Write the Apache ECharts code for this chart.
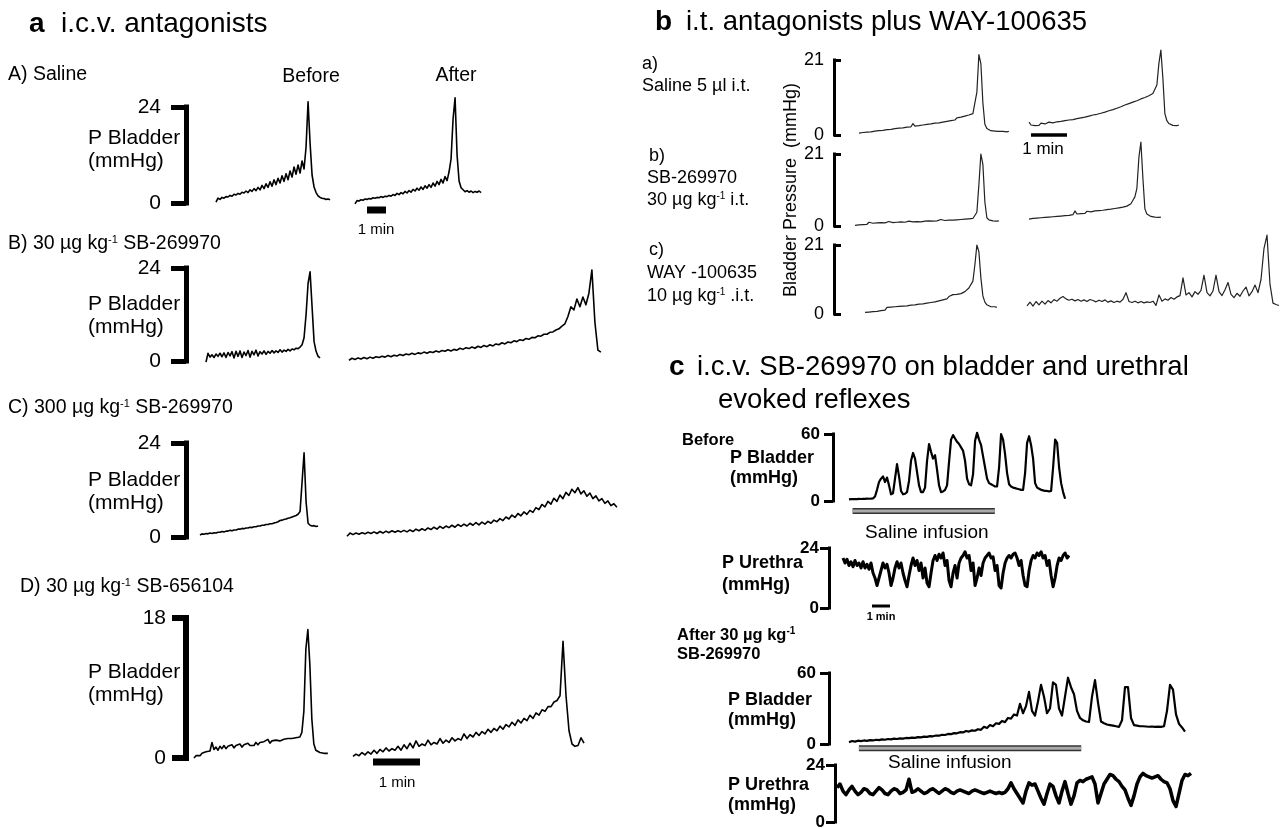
<!DOCTYPE html>
<html>
<head>
<meta charset="utf-8">
<title>Bladder pressure traces</title>
<script src="https://cdn.jsdelivr.net/npm/echarts@6/dist/echarts.min.js"></script>
<style>
    html, body { margin: 0; padding: 0; background: #fff; }
    #chart { width: 1282px; height: 829px; }
</style>
</head>
<body>
<div id="chart"></div>
<script>
    // ---- panel a : i.c.v. antagonists, bladder pressure (mmHg), evenly sampled ----
    const salineBefore = [0.2,1.2,0.9,1.4,1.2,1.6,1.5,1.9,1.7,2.2, 2.0,2.4,2.2,2.7,2.5,3.0,2.6,3.3,2.9,3.6,
        3.1,3.9,3.3,4.4,3.6,4.8,3.9,5.3,4.2,5.8, 4.6,6.2,5.0,6.8,5.4,7.3,5.8,8.0,6.5,9.0,
        7.2,9.5,7.5,10.5,8.5,14,25.3,15,7,4, 2.6,1.8,1.4,1.2,1.1,0.9,1.0,0.8];
    const salineAfter = [-0.2,0.6,0.5,0.8,0.7,1.0,0.9,1.1,1.0,1.3, 1.2,1.4,1.3,1.6,1.4,1.7,1.6,1.9,1.7,2.1,
        1.9,2.4,2.1,2.6,2.3,2.9,2.5,3.1,2.7,3.4, 3.0,3.7,3.2,4.0,3.4,4.3,3.7,4.6,3.9,5.0,
        4.2,5.4,4.6,5.9,5.0,6.6,5.6,7.8,11,21, 26.3,12,5.5,3.8,3.3,2.8,3.1,2.7,3.0,2.6, 2.9,2.7,3.0,2.6];
    const sb30Before = [-0.3,2.0,1.0,1.6,0.9,1.8,1.2,2.0,1.1,2.1, 0.9,2.2,1.3,2.4,0.8,2.5,1.2,2.6,0.9,2.3,
        1.4,2.7,1.0,2.5,1.6,2.8,1.3,2.4,1.8,2.6, 1.7,2.5,2.0,2.7,2.1,2.6,2.2,2.9,2.3,2.8,
        2.5,3.0,2.6,3.1,2.9,3.3,3.2,3.6,4.2,6, 12,20,23,14,5,2.5,1.2,0.8];
    const sb30After = [0.2,0.7,0.4,0.8,0.5,0.9,0.6,1.0,0.7,1.1, 0.9,1.2,1.0,1.4,1.1,1.5,1.3,1.7,1.4,1.8,
        1.6,2.0,1.7,2.1,1.9,2.3,2.0,2.4,2.2,2.6, 2.3,2.7,2.5,2.9,2.6,3.0,2.8,3.3,3.0,3.4,
        3.2,3.6,3.3,3.8,3.5,4.0,3.7,4.2,3.9,4.4, 4.2,4.7,4.4,4.9,4.7,5.2,5.0,5.5,5.3,5.8,
        5.6,6.1,6.0,6.5,6.4,6.9,6.9,7.4,7.5,8.0, 8.3,9.0,9.6,11.5,14.0,13.2,16.0,14.0,16.5,14.5,
        17.5,23.5,10,2.8,2.3];
    const sb300Before = [0.5,0.8,0.7,0.9,0.8,1.0,0.9,1.1,1.0,1.2, 1.2,1.4,1.3,1.5,1.5,1.7,1.6,1.8,1.8,2.0,
        2.0,2.2,2.1,2.3,2.3,2.5,2.4,2.6,2.6,2.8, 2.8,3.0,3.0,3.2,3.2,3.4,3.4,3.6,3.7,3.9,
        4.2,4.3,4.5,4.6,4.8,4.9,5.1,5.3,5.5,5.8, 6.5,14,21.5,9,3.5,3.0,2.8,2.9,2.7,2.8];
    const sb300After = [0.2,1.0,0.6,1.0,0.7,1.1,0.8,1.2,0.9,1.3, 0.9,1.4,1.0,1.5,1.1,1.6,1.2,1.6,1.3,1.7,
        1.3,1.8,1.4,2.0,1.6,2.1,1.7,2.3,1.9,2.5, 2.0,2.7,2.2,2.8,2.4,3.0,2.5,3.2,2.7,3.3,
        2.8,3.5,3.0,3.7,3.1,3.8,3.3,4.0,3.5,4.3, 3.9,4.7,4.2,5.1,4.6,5.6,5.0,6.0,5.4,6.4,
        5.8,6.8,6.3,7.5,7.0,8.3,7.7,9.1,8.4,9.9, 9.1,10.7,9.8,11.4,10.6,12.2,11.3,12.6,11.0,11.8,
        10.4,11.2,9.8,10.5,9.2,9.8,8.6,9.2,8.0,8.5, 7.6];
    const sb656Before = [0.0,0.3,0.4,0.3,0.6,0.5,0.8,0.7,0.9,2.0, 1.1,1.4,1.0,1.5,1.2,1.6,1.2,1.5,1.3,1.7,
        1.3,1.6,1.4,1.8,1.4,1.7,1.5,1.9,1.6,1.8, 1.6,2.0,1.7,2.0,1.8,2.1,1.9,2.4,1.9,2.2,
        2.0,2.3,2.1,2.2,2.1,2.4,2.2,2.5,2.3,2.5, 2.4,2.6,2.5,2.7,3.3,6,14,16.5,12,5,
        1.8,1.0,0.8,0.7,0.6,0.6,0.5,0.6];
    const sb656After = [0.2,0.5,0.3,0.7,0.4,0.8,0.5,1.0,0.6,1.1, 0.8,1.3,0.9,1.2,1.0,1.5,1.0,1.7,1.2,1.9,
        1.3,2.2,1.5,1.8,1.6,2.3,1.7,2.0,1.8,2.5, 1.9,2.3,2.0,2.6,2.2,2.5,2.3,3.1,2.5,3.0,
        2.7,3.3,2.9,3.4,3.1,3.7,3.3,3.8,3.5,4.1, 3.7,4.3,4.0,4.6,4.2,4.9,4.5,5.1,4.8,5.5,
        5.1,5.8,5.5,6.2,6.0,6.6,6.6,7.2,7.4,8.0, 15,8,3.5,1.8,1.5,1.6,2.6,1.9];
    // sample spacing in seconds, [before, after]
    const stepRowA = [6.32, 6.32];
    const stepRowB = [6.32, 9.47];
    const stepRowC = [6.32, 9.47];
    const stepRowD = [2.55, 3.83];
    const yMaxA = [24, 24, 24, 18];

    // ---- panel b : i.t. antagonists plus WAY-100635 ----
    const itSalineBefore = [0.5,0.9,0.7,1.1,0.8,1.2,0.9,1.3,1.1,1.5, 1.2,1.5,1.3,1.7,1.5,1.9,1.6,2.0,1.8,2.1,
        1.9,2.3,2.0,2.4,2.2,2.6,2.3,3.2,2.5,2.8, 2.6,3.0,2.8,3.2,3.0,3.4,3.1,3.5,3.3,3.7,
        3.4,3.9,3.6,4.0,3.8,4.3,4.0,4.5,4.2,4.8, 4.5,5.0,4.8,5.3,5.1,5.6,5.5,6.0,6.5,12,
        22.5,20,9,3.0,1.8,1.4,1.2,1.0,1.1,0.9, 1.0,1.2,1.0,1.1,0.9,1.0];
    const itSalineAfter = [3.6,2.8,3.2,2.6,3.0,2.7,3.3,2.8,3.1,3.0, 3.6,3.1,3.4,3.2,3.7,3.3,3.8,3.5,4.0,3.7,
        4.2,3.9,4.3,4.1,4.6,4.3,4.8,4.5,5.0,4.8, 5.3,5.0,5.6,5.2,5.8,5.5,6.1,5.8,6.4,6.1,
        6.8,6.4,7.1,6.8,7.5,7.2,7.9,7.6,8.4,8.0, 8.8,8.4,9.2,8.8,9.6,9.3,10.1,9.7,10.5,10.3,
        11.0,10.8,11.6,12.0,14,20,23.8,16,6,4.0, 3.2,2.9,2.7,2.9,2.6,2.8];
    const itSbBefore = [0.2,0.5,0.3,0.6,0.4,0.7,0.5,1.1,0.6,0.8, 0.6,0.9,0.7,1.0,0.7,0.9,0.8,1.3,0.8,1.0,
        0.9,1.1,0.9,1.2,1.0,1.1,1.0,1.4,1.0,1.2, 1.1,1.3,1.1,1.2,1.2,1.4,1.2,1.5,1.3,1.4,
        1.3,1.5,1.4,1.9,1.4,1.6,1.5,1.7,1.5,1.7, 1.6,1.8,1.7,1.9,1.8,2.0,1.9,2.1,2.0,2.2,
        2.4,4,12,21,18,7,2.4,1.8,1.6,1.5, 1.6,1.4,1.5];
    const itSbAfter = [2.0,2.4,2.2,2.5,2.3,2.6,2.4,2.6,2.5,2.8, 2.6,2.8,2.7,3.0,2.8,3.0,2.9,3.2,3.0,3.4,
        3.1,3.6,3.3,4.4,3.5,3.8,3.6,4.0,3.7,4.3, 3.8,4.1,3.9,4.4,4.0,4.5,4.2,4.6,4.3,4.8,
        4.4,4.9,4.6,5.1,4.8,5.3,5.0,5.5,5.3,5.8, 5.7,6.5,7.5,8.5,11,20,24.5,14,5,3.5,
        3.0,2.8,2.7,2.6,2.7,2.5,2.6];
    const itWayBefore = [0.5,0.7,0.6,0.8,0.7,0.9,0.8,1.0,1.0,1.1, 1.2,2.0,2.2,2.1,2.3,2.2,2.4,2.3,2.5,2.4,
        2.6,2.5,2.8,2.7,2.9,2.8,3.1,3.0,3.3,3.1, 3.5,3.3,3.6,3.5,3.9,3.7,4.2,4.0,4.6,4.3,
        4.9,4.6,5.3,5.0,5.9,5.6,6.0,5.7,6.2,6.0, 6.8,7.3,7.9,8.3,10,15,21,19,11,5.5,
        3.6,2.8,2.4,2.2,2.1,2.2,2.0];
    const itWayAfter = [2.5,3.6,2.4,3.8,2.8,3.9,3.0,4.1,3.4,4.4, 3.9,4.8,5.3,4.6,4.2,4.5,4.0,4.4,3.9,4.3,
        3.8,4.4,4.1,3.7,4.2,3.8,4.3,3.6,4.0,3.5, 3.9,3.6,4.5,6.5,3.8,3.5,3.9,3.4,3.8,3.4,
        3.7,3.5,3.9,2.6,5.8,3.9,4.6,4.2,5.0,4.5, 5.2,5.6,11.0,5.8,6.5,5.2,6.8,6.0,7.2,11.8,
        6.5,5.5,7.0,11.8,6.8,5.6,7.4,9.6,6.0,5.0, 6.3,5.4,7.0,8.2,5.5,6.8,8.8,6.5,10.5,20,
        24,9,3.3,2.9,2.6];
    const stepPanelB = [3.33, 3.33, 3.33, 3.33, 3.33, 5.0];
    const yMaxB = 21;

    // ---- panel c : bladder and urethral reflexes ----
    const cBladderBefore = [1.5,1.7,1.6,1.8,1.7,1.9,1.8,2.0,1.9,2.1, 2.0,2.2,2.4,4,10,17,20,22,17,21,
        14,6,7,20,33,22,9,6,6.5,8, 18,36,43,38,26,14,8,8,12,36,
        51,44,38,41,28,14,8,8.5,10,14, 35,55,59,56,53,51,48,45,36,20,
        15,14,24,54,61,55,50,40,30,20, 16,15,14,13,13,30,60,55,42,25,
        15,13,12,11.5,11,10.5,10,10,25,52, 58,50,38,16,12,11,10,9.5,9,9,
        8.6,9,30,55,52,30,16,8,2];
    const cUrethraBefore = [20,18,19.5,17,18.5,16.5,19,17,18,16, 18.5,16,17.5,15.5,18,14,12,9,12,15,
        18,16,17.5,14,9,12,16,18.5,16,18, 14,11,8.5,13,17,20,17,19,15,18,
        12,16,10,8.5,14,19,21,19,21.5,20, 22,17,19,11,8.5,14,17,12,18,20,
        21,22.5,20,21,15,18,9,12,16,13, 18,20,21,22,20,20.5,15,17,9,8,
        14,18,20,21,20,21.5,22,20,17,19, 13,9,8.5,15,19,21,20,22,21,22.5,
        20,21,17,19,13,8.5,12,17,20,19, 21,22,20,21];
    const cBladderAfter = [1.5,2.5,2.0,2.8,2.4,3.0,2.7,3.3,3.0,3.6, 3.3,3.9,3.6,4.2,3.9,4.5,4.2,4.8,4.6,5.1,
        4.9,5.4,5.2,5.8,5.6,6.2,6.0,6.6,6.5,7.2, 7.0,7.8,7.6,8.5,8.3,9.2,9.0,10.0,9.8,11.0,
        10.5,11.5,11.2,12.5,12.0,14.5,13.5,16.0,15.0,17.5, 17.0,19.5,18.5,22.0,21.5,25.0,24.0,34,26,32,
        44,28,24,36,50,40,26,30,52,50, 30,24,40,56,48,42,28,22,20,19,
        18.6,40,54,35,19,17.5,16.5,16,15.5,15, 14.5,20,48,48,22,16,15.5,15,15,14.8,
        14.6,14.8,14.5,14.6,14.5,15,28,50,46,25, 17,14,10.5];
    const cUrethraAfter = [14.5,16.0,13.0,11.5,13.5,15.0,13.0,11.5,12.5,14.0, 13.5,12.0,11.5,13.0,14.5,13.5,12.0,11.5,13.0,14.0,
        13.5,12.0,12.5,13.5,18.0,12.5,13.0,14.0,13.0,12.0, 12.5,13.5,14.0,13.0,12.0,13.0,14.0,13.5,12.5,12.0,
        13.0,13.5,13.0,12.5,12.0,13.0,13.5,13.0,12.5,12.0, 12.5,13.0,12.5,12.0,12.5,12.0,12.5,14.0,16.5,14.0,
        12.0,10.0,8.0,13.0,16.5,15.5,16.0,13.0,10.0,7.5, 12.0,16.0,15.0,11.0,8.0,13.0,17.0,12.0,7.5,11.0,
        16.5,17.5,17.0,18.0,18.5,19.0,16.0,8.0,12.0,16.0, 18.0,20.0,19.5,18.0,17.0,15.0,13.5,10.0,7.0,11.0,
        16.0,19.0,20.5,19.5,19.0,18.5,19.0,19.5,18.0,17.0, 16.5,14.0,9.0,6.5,12.0,17.5,20.0,19.5,20.5];
    const stepPanelC = [6.67, 6.67, 10, 10];
    const yMaxC = [60, 24, 60, 24];
    const infusionBefore = [0.2, 8.1];   // minutes
    const infusionAfter = [0.55, 12.9];
    const scaleBarMin = [0, 1];

    const FONT = '"Liberation Sans", Arial, Helvetica, sans-serif';
    const grid = [], xAxis = [], yAxis = [], series = [], graphic = [];

    function addGrid(left, top, width, bottom, xMax, yMax, ax) {
        const i = grid.length;
        grid.push({ left: left, top: top, width: width, height: bottom - top, outerBoundsMode: 'none' });
        xAxis.push({ type: 'value', gridIndex: i, min: 0, max: xMax, show: false });
        const y = { type: 'value', gridIndex: i, min: 0, max: yMax, interval: yMax, show: false, splitLine: { show: false } };
        if (ax) {
            Object.assign(y, {
                show: true,
                offset: left - ax.x,
                axisLine: { show: true, onZero: false, lineStyle: { color: '#000', width: ax.w, cap: 'square' } },
                axisTick: { show: true, inside: !!ax.inside, length: ax.tick, lineStyle: { color: '#000', width: ax.w } },
                axisLabel: { show: true, margin: ax.margin, color: '#000', fontSize: ax.font, fontFamily: FONT,
                    fontWeight: ax.bold ? 'bold' : 'normal' }
            });
        }
        yAxis.push(y);
        return i;
    }

    function addTrace(left, top, bottom, values, stepSec, pxPerMin, yMax, lw, color, ax) {
        const dur = (values.length - 1) * stepSec / 60;
        const g = addGrid(left, top, dur * pxPerMin, bottom, dur, yMax, ax);
        series.push({
            type: 'line', xAxisIndex: g, yAxisIndex: g, symbol: 'none', clip: false, silent: true,
            lineStyle: { color: color, width: lw, join: 'round' },
            data: values.map(function (v, k) { return [k * stepSec / 60, v]; })
        });
        return g;
    }

    function addScaleBar(left, y, pxPerMin, thick) {
        const g = addGrid(left, y - 1, pxPerMin, y + 1, 1, 1);
        series.push({
            type: 'line', xAxisIndex: g, yAxisIndex: g, symbol: 'none', silent: true,
            lineStyle: { color: '#000', width: thick, cap: 'butt' },
            data: scaleBarMin.map(function (t) { return [t, 0.5]; })
        });
    }

    function label(x, y, text, size, extra) {
        graphic.push({
            type: 'text', x: x, y: y, silent: true,
            style: Object.assign({ text: text, fill: '#000', fontSize: size, fontFamily: FONT,
                textAlign: 'left', textVerticalAlign: 'middle', align: 'left', verticalAlign: 'middle' }, extra || {})
        });
    }

    function supLabel(x, y, pre, post, size, bold) {
        const w = bold ? 'bold' : 'normal';
        label(x, y, '{n|' + pre + '}{s|-1}{n|' + post + '}', size, {
            rich: {
                n: { fontSize: size, fontFamily: FONT, fontWeight: w, fill: '#000' },
                s: { fontSize: Math.round(size * 0.58), fontFamily: FONT, fontWeight: w, fill: '#000', verticalAlign: 'top' }
            }
        });
    }

    // ---------- panel a ----------
    const PA = 19, PD = 47, LA = 1.6;
    const axA = { x: 186, w: 5, tick: 15, margin: 25, font: 21 };
    const axD = { x: 186, w: 6, tick: 14, margin: 20, font: 21 };
    addTrace(216, 107, 203, salineBefore, stepRowA[0], PA, yMaxA[0], LA, '#000', axA);
    addTrace(355, 107, 203, salineAfter, stepRowA[1], PA, yMaxA[0], LA, '#000');
    addTrace(206, 268, 361, sb30Before, stepRowB[0], PA, yMaxA[1], LA, '#000', axA);
    addTrace(349, 268, 361, sb30After, stepRowB[1], PA, yMaxA[1], LA, '#000');
    addTrace(200, 443, 537, sb300Before, stepRowC[0], PA, yMaxA[2], LA, '#000', axA);
    addTrace(347, 443, 537, sb300After, stepRowC[1], PA, yMaxA[2], LA, '#000');
    addTrace(194, 618, 758, sb656Before, stepRowD[0], PD, yMaxA[3], LA, '#000', axD);
    addTrace(353, 618, 758, sb656After, stepRowD[1], PD, yMaxA[3], LA, '#000');
    addScaleBar(367, 210, PA, 7);
    addScaleBar(373, 762, PD, 7);

    label(29, 24, 'a', 28, { fontWeight: 'bold' });
    label(61, 24, 'i.c.v. antagonists', 28);
    label(8, 75, 'A) Saline', 19.5);
    label(311, 77, 'Before', 19.5, { textAlign: 'center', align: 'center' });
    label(456, 76, 'After', 19.5, { textAlign: 'center', align: 'center' });
    [[138, 161], [304, 327], [480, 503], [672, 695]].forEach(function (p) {
        label(88, p[0], 'P Bladder', 21);
        label(88, p[1], '(mmHg)', 21);
    });
    supLabel(8, 244, 'B) 30 µg kg', ' SB-269970', 19.5);
    supLabel(8, 408, 'C) 300 µg kg', ' SB-269970', 19.5);
    supLabel(20, 587, 'D) 30 µg kg', ' SB-656104', 19.5);
    label(376, 230, '1 min', 15, { textAlign: 'center', align: 'center' });
    label(397, 783, '1 min', 15, { textAlign: 'center', align: 'center' });

    // ---------- panel b ----------
    const PB = 36, LB = 1.2, CB = '#222';
    const axB = { x: 834, w: 3, tick: 7, inside: true, margin: 10, font: 18 };
    addTrace(859, 60, 135, itSalineBefore, stepPanelB[0], PB, yMaxB, LB, CB, axB);
    addTrace(1029, 60, 135, itSalineAfter, stepPanelB[1], PB, yMaxB, LB, CB);
    addTrace(855, 154, 226, itSbBefore, stepPanelB[2], PB, yMaxB, LB, CB, axB);
    addTrace(1029, 154, 226, itSbAfter, stepPanelB[3], PB, yMaxB, LB, CB);
    addTrace(865, 245, 314, itWayBefore, stepPanelB[4], PB, yMaxB, LB, CB, axB);
    addTrace(1027, 245, 314, itWayAfter, stepPanelB[5], PB, yMaxB, LB, CB);
    addScaleBar(1031, 135, PB, 3.5);

    label(655, 22, 'b', 28, { fontWeight: 'bold' });
    label(686, 22, 'i.t. antagonists plus WAY-100635', 27.5);
    label(642, 64, 'a)', 18);
    label(642, 86, 'Saline 5 µl i.t.', 18);
    label(649, 156, 'b)', 18);
    label(647, 178, 'SB-269970', 18);
    supLabel(647, 200, '30 µg kg', ' i.t.', 18);
    label(649, 250, 'c)', 18);
    label(647, 273, 'WAY -100635', 18);
    supLabel(647, 296, '10 µg kg', ' .i.t.', 18);
    graphic.push({
        type: 'text', x: 791, y: 190, rotation: Math.PI / 2, silent: true,
        style: { text: 'Bladder Pressure  (mmHg)', fill: '#000', fontSize: 18, fontFamily: FONT,
            textAlign: 'center', textVerticalAlign: 'middle', align: 'center', verticalAlign: 'middle' }
    });
    label(1043, 149, '1 min', 17, { textAlign: 'center', align: 'center' });

    // ---------- panel c ----------
    const PC = 18;
    const axCb = { x: 833, w: 3, tick: 9, margin: 13, font: 17, bold: true };
    const axCu = { x: 829, w: 3, tick: 9, margin: 10, font: 17, bold: true };
    const axCb2 = { x: 829, w: 3, tick: 9, margin: 13, font: 17, bold: true };
    const axCu2 = { x: 835, w: 3, tick: 9, margin: 10, font: 17, bold: true };
    const gBefore = addTrace(849, 434, 501, cBladderBefore, stepPanelC[0], PC, yMaxC[0], 2.2, '#000', axCb);
    addTrace(843, 548, 608, cUrethraBefore, stepPanelC[1], PC, yMaxC[1], 3, '#000', axCu);
    const gAfter = addTrace(849, 673, 744, cBladderAfter, stepPanelC[2], PC, yMaxC[2], 2.2, '#000', axCb2);
    addTrace(837, 765, 822, cUrethraAfter, stepPanelC[3], PC, yMaxC[3], 3.5, '#000', axCu2);
    [[gBefore, infusionBefore, -9], [gAfter, infusionAfter, -3.5]].forEach(function (b) {
        const pts = b[1].map(function (t) { return [t, b[2]]; });
        series.push({ type: 'line', xAxisIndex: b[0], yAxisIndex: b[0], symbol: 'none', clip: false, silent: true,
            lineStyle: { color: '#333', width: 6, cap: 'butt' }, data: pts });
        series.push({ type: 'line', xAxisIndex: b[0], yAxisIndex: b[0], symbol: 'none', clip: false, silent: true,
            lineStyle: { color: '#aaa', width: 3, cap: 'butt' }, data: pts.slice(), z: 3 });
    });
    addScaleBar(872, 606, PC, 3);

    label(669, 367, 'c', 28, { fontWeight: 'bold' });
    label(697, 367, 'i.c.v. SB-269970 on bladder and urethral', 27.5);
    label(718, 400, 'evoked reflexes', 27.5);
    label(682, 440, 'Before', 16.5, { fontWeight: 'bold' });
    label(730, 458, 'P Bladder', 18, { fontWeight: 'bold' });
    label(730, 478, '(mmHg)', 18, { fontWeight: 'bold' });
    label(865, 533, 'Saline infusion', 19);
    label(722, 563, 'P Urethra', 18, { fontWeight: 'bold' });
    label(722, 585, '(mmHg)', 18, { fontWeight: 'bold' });
    label(881, 617, '1 min', 11, { textAlign: 'center', align: 'center', fontWeight: 'bold' });
    supLabel(677, 635, 'After 30 µg kg', '', 16.5, true);
    label(677, 654, 'SB-269970', 16.5, { fontWeight: 'bold' });
    label(728, 700, 'P Bladder', 18, { fontWeight: 'bold' });
    label(728, 720, '(mmHg)', 18, { fontWeight: 'bold' });
    label(888, 763, 'Saline infusion', 19);
    label(728, 785, 'P Urethra', 18, { fontWeight: 'bold' });
    label(728, 805, '(mmHg)', 18, { fontWeight: 'bold' });

    const chart = echarts.init(document.getElementById('chart'));
    chart.setOption({
        animation: false,
        backgroundColor: '#fff',
        grid: grid,
        xAxis: xAxis,
        yAxis: yAxis,
        series: series,
        graphic: graphic
    });
    window.addEventListener('resize', function () {
        chart.resize();
    });
</script>
</body>
</html>
